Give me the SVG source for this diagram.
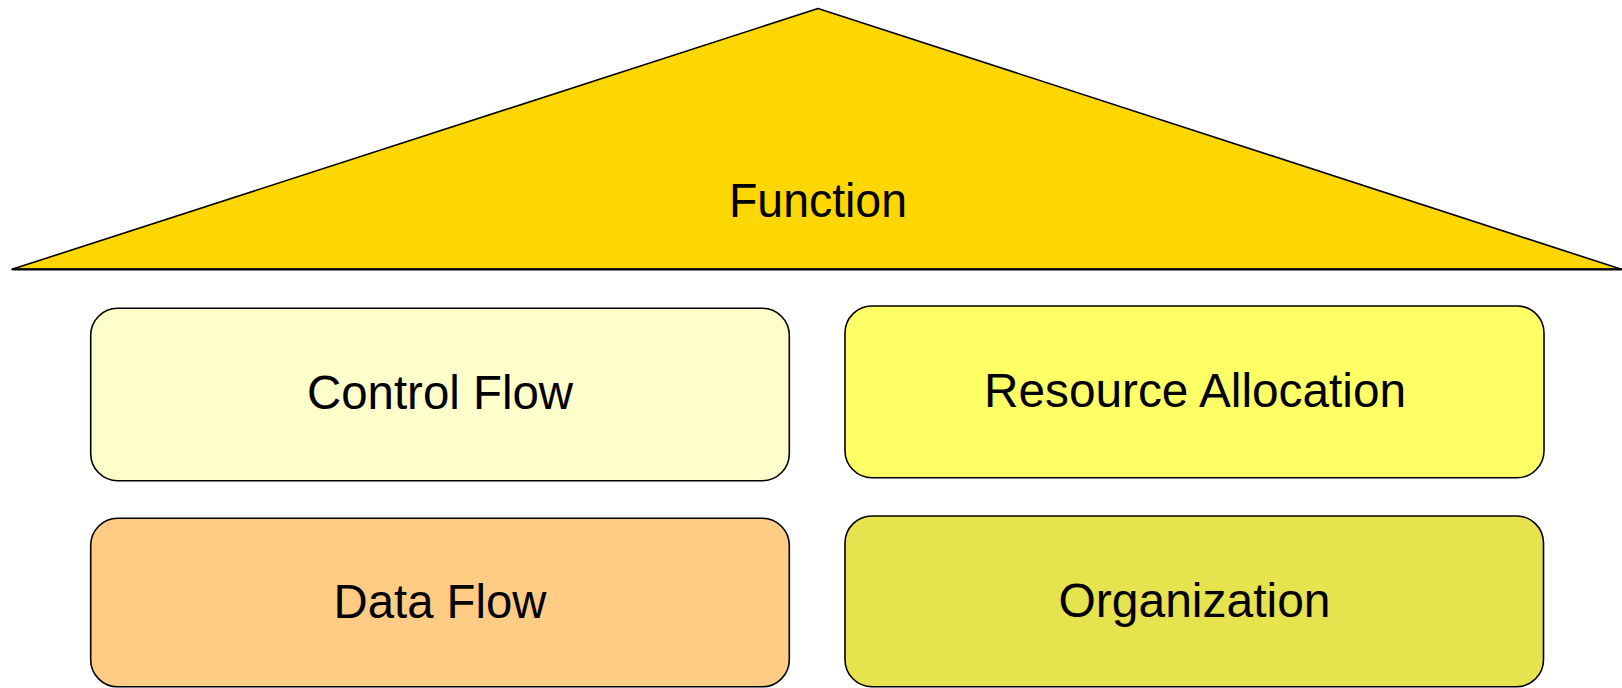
<svg xmlns="http://www.w3.org/2000/svg" width="1622" height="688" viewBox="0 0 1622 688">
  <style>
    .shape { stroke: #000000; stroke-width: 1.6; }
    .label { font-family: "Liberation Sans", Arial, sans-serif; font-size: 48px; fill: #000000; text-anchor: middle; }
  </style>
  <rect width="1622" height="688" fill="#ffffff"/>

  <!-- Roof -->
  <g id="function">
    <polygon class="shape" points="818,8.5 1621.5,269.3 12,269.3" fill="#FFD700" stroke-linejoin="round"/>
    <line x1="12" y1="269.3" x2="1621.5" y2="269.3" stroke="#000000" stroke-width="2.2"/>
    <text class="label" x="818" y="217" textLength="178" lengthAdjust="spacingAndGlyphs">Function</text>
  </g>

  <!-- Pillars -->
  <g id="control-flow">
    <rect class="shape" x="90.7" y="308.3" width="698.6" height="172.4" rx="27" ry="27" fill="#FEFECB"/>
    <text class="label" x="440" y="409" textLength="266" lengthAdjust="spacingAndGlyphs">Control Flow</text>
  </g>

  <g id="resource-allocation">
    <rect class="shape" x="845" y="306" width="699" height="171.7" rx="27" ry="27" fill="#FFFF66"/>
    <text class="label" x="1195" y="406.5" textLength="422" lengthAdjust="spacingAndGlyphs">Resource Allocation</text>
  </g>

  <g id="data-flow">
    <rect class="shape" x="90.7" y="518.3" width="698.6" height="168.5" rx="27" ry="27" fill="#FFCC85"/>
    <text class="label" x="440" y="618" textLength="213" lengthAdjust="spacingAndGlyphs">Data Flow</text>
  </g>

  <g id="organization">
    <rect class="shape" x="845" y="516" width="698.5" height="170.7" rx="27" ry="27" fill="#E6E34E"/>
    <text class="label" x="1194.5" y="616.5" textLength="272" lengthAdjust="spacingAndGlyphs">Organization</text>
  </g>

  <g id="connectors"></g>
</svg>
